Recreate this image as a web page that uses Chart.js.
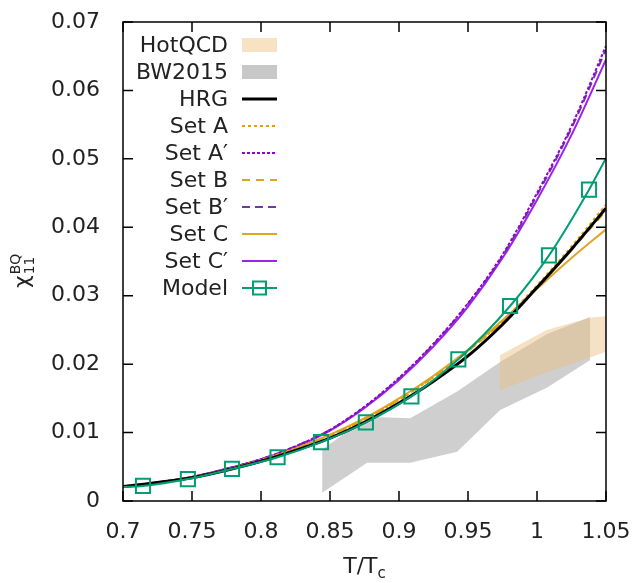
<!DOCTYPE html>
<html>
<head>
<meta charset="utf-8">
<script src="https://cdn.jsdelivr.net/npm/chart.js@4"></script>
<style>
  body { margin: 0; background: #fff; }
  canvas { display: block; }
</style>
</head>
<body>
<canvas id="grafico" width="638" height="583"></canvas>
<script>
// ========================
// DADOS
// ========================

const temperaturas = [0.7, 0.725, 0.75, 0.775, 0.8, 0.825, 0.85, 0.875, 0.9, 0.925, 0.95, 0.975, 1.0, 1.025, 1.05];

const hrg = [0.0021, 0.0027, 0.0034, 0.0045, 0.0058, 0.0074, 0.0092, 0.0115, 0.0143, 0.0175, 0.0212, 0.0258, 0.0312, 0.0368, 0.0428];
const setA = [0.0021, 0.0027, 0.0035, 0.0046, 0.006, 0.0077, 0.0096, 0.0119, 0.0148, 0.0181, 0.0219, 0.0263, 0.0315, 0.0372, 0.0433];
const setALinha = [0.0021, 0.0027, 0.0035, 0.0047, 0.0061, 0.008, 0.0104, 0.0138, 0.018, 0.023, 0.0289, 0.036, 0.045, 0.0548, 0.0665];
const setB = [0.0021, 0.0027, 0.0035, 0.0046, 0.006, 0.0077, 0.0096, 0.0119, 0.0148, 0.0181, 0.0219, 0.0262, 0.0313, 0.0367, 0.0424];
const setBLinha = [0.0021, 0.0027, 0.0035, 0.0047, 0.0061, 0.008, 0.0104, 0.0137, 0.0179, 0.0229, 0.0288, 0.0358, 0.0447, 0.0545, 0.066];
const setC = [0.0021, 0.0027, 0.0035, 0.0046, 0.006, 0.0077, 0.0097, 0.0121, 0.015, 0.0183, 0.0221, 0.0264, 0.031, 0.0355, 0.0397];
const setCLinha = [0.0021, 0.0027, 0.0035, 0.0047, 0.0061, 0.0079, 0.0103, 0.0136, 0.0177, 0.0226, 0.0284, 0.0355, 0.044, 0.0535, 0.0645];

// modelo: pontas da linha + quadrados
const modeloT = [0.7, 0.7145, 0.747, 0.779, 0.812, 0.8435, 0.876, 0.909, 0.943, 0.9805, 1.0087, 1.0377, 1.05];
const modelo = [0.00205, 0.0022, 0.0032, 0.0047, 0.0064, 0.0086, 0.0115, 0.0153, 0.0207, 0.0285, 0.0359, 0.0455, 0.0501];

// bandas
const hotqcdT = [0.973, 1.007, 1.039, 1.05];
const hotqcdMin = [0.0162, 0.0188, 0.021, 0.0218];
const hotqcdMax = [0.0213, 0.025, 0.0268, 0.027];

const bwT = [0.8443, 0.8769, 0.9081, 0.9421, 0.9733, 1.0074, 1.0386];
const bwMin = [0.0012, 0.0056, 0.0056, 0.0072, 0.0133, 0.0166, 0.0206];
const bwMax = [0.0075, 0.0123, 0.0121, 0.016, 0.0203, 0.0244, 0.0269];

const ticksX = [0.7, 0.75, 0.8, 0.85, 0.9, 0.95, 1, 1.05];
const ticksY = [0, 0.01, 0.02, 0.03, 0.04, 0.05, 0.06, 0.07];

const FONTE = "DejaVu Sans";

function pontos(xs, ys) {
  return xs.map((x, i) => ({ x: x, y: ys[i] }));
}

function curva(label, ys, cor, tracejado, largura) {
  return {
    label: label,
    data: pontos(temperaturas, ys),
    borderColor: cor,
    borderWidth: largura || 2,
    borderDash: tracejado || [],
    pointRadius: 0,
    cubicInterpolationMode: "monotone",
    fill: false,
  };
}

// ========================
// PLUGINS
// ========================

const moldura = {
  id: "moldura",
  beforeDraw(chart) {
    const ctx = chart.ctx;
    ctx.save();
    ctx.fillStyle = "#fff";
    ctx.fillRect(0, 0, chart.width, chart.height);
    ctx.restore();
  },
  afterDraw(chart) {
    const ctx = chart.ctx;
    const a = chart.chartArea;
    const x = chart.scales.x;
    const y = chart.scales.y;

    ctx.save();
    ctx.strokeStyle = "#000";
    ctx.lineWidth = 1.5;
    ctx.strokeRect(a.left, a.top, a.right - a.left, a.bottom - a.top);

    ctx.beginPath();
    ticksX.forEach((t) => {
      const px = x.getPixelForValue(t);
      ctx.moveTo(px, a.bottom);
      ctx.lineTo(px, a.bottom - 10);
      ctx.moveTo(px, a.top);
      ctx.lineTo(px, a.top + 10);
    });
    ticksY.forEach((t) => {
      const py = y.getPixelForValue(t);
      ctx.moveTo(a.left, py);
      ctx.lineTo(a.left + 10, py);
      ctx.moveTo(a.right, py);
      ctx.lineTo(a.right - 10, py);
    });
    ctx.stroke();

    // título x: T/Tc
    ctx.fillStyle = "#222";
    ctx.textBaseline = "alphabetic";
    ctx.textAlign = "left";
    ctx.font = "22px " + FONTE;
    const cx = (a.left + a.right) / 2;
    const w = ctx.measureText("T/T").width;
    ctx.font = "15px " + FONTE;
    const wc = ctx.measureText("c").width;
    const x0 = cx - (w + wc) / 2;
    ctx.font = "22px " + FONTE;
    ctx.fillText("T/T", x0, 573);
    ctx.font = "15px " + FONTE;
    ctx.fillText("c", x0 + w, 578);

    // título y: χ11^BQ
    ctx.translate(29, 288);
    ctx.rotate(-Math.PI / 2);
    ctx.font = "22px " + FONTE;
    ctx.fillText("χ", 0, 0);
    const wx = ctx.measureText("χ").width;
    ctx.font = "14px " + FONTE;
    ctx.fillText("BQ", wx + 1, -9);
    ctx.fillText("11", wx + 1, 5);
    ctx.restore();
  },
};

const legenda = {
  id: "legenda",
  afterDraw(chart) {
    const ctx = chart.ctx;
    const itens = chart.data.datasets.filter((d) => d.label);
    ctx.save();
    ctx.font = "22px " + FONTE;
    ctx.textAlign = "right";
    ctx.textBaseline = "middle";

    itens.forEach((d, i) => {
      const y = 45 + i * 27;
      ctx.fillStyle = "#222";
      ctx.fillText(d.label, 228, y + 1);

      if (d.fill) {
        ctx.fillStyle = d.corLegenda;
        ctx.fillRect(242, y - 7, 35, 14);
        return;
      }

      ctx.strokeStyle = d.borderColor;
      ctx.lineWidth = d.borderWidth;
      ctx.setLineDash(d.borderDash || []);
      ctx.beginPath();
      ctx.moveTo(242, y);
      ctx.lineTo(277, y);
      ctx.stroke();
      ctx.setLineDash([]);

      if (d.pointStyle === "rect") {
        ctx.strokeRect(253, y - 6.5, 13, 13);
      }
    });
    ctx.restore();
  },
};

// ========================
// GRÁFICO
// ========================

new Chart(document.getElementById("grafico"), {
  type: "line",

  data: {
    datasets: [
      {
        label: "",
        data: pontos(hotqcdT, hotqcdMin),
        borderWidth: 0,
        pointRadius: 0,
        fill: false,
      },
      {
        label: "HotQCD",
        data: pontos(hotqcdT, hotqcdMax),
        borderWidth: 0,
        pointRadius: 0,
        backgroundColor: "rgba(232,190,125,0.45)",
        corLegenda: "#f7e2c2",
        fill: "-1",
      },
      {
        label: "",
        data: pontos(bwT, bwMin),
        borderWidth: 0,
        pointRadius: 0,
        fill: false,
      },
      {
        label: "BW2015",
        data: pontos(bwT, bwMax),
        borderWidth: 0,
        pointRadius: 0,
        backgroundColor: "#cfcfcf",
        corLegenda: "#c8c8c8",
        fill: "-1",
      },
      curva("HRG", hrg, "#000", [], 3),
      curva("Set A", setA, "#e69f00", [3, 3]),
      curva("Set A\u2032", setALinha, "#9400d3", [3, 2]),
      curva("Set B", setB, "#daa520", [8, 6]),
      curva("Set B\u2032", setBLinha, "#6a3d9a", [8, 5]),
      curva("Set C", setC, "#e0a526", []),
      curva("Set C\u2032", setCLinha, "#a020f0", []),
      {
        label: "Model",
        data: pontos(modeloT, modelo),
        borderColor: "#009e73",
        borderWidth: 2,
        pointStyle: "rect",
        pointRadius: (c) => (c.dataIndex === 0 || c.dataIndex === modeloT.length - 1 ? 0 : 10),
        pointBorderWidth: 2,
        pointBackgroundColor: "rgba(0,0,0,0)",
        pointBorderColor: "#009e73",
        cubicInterpolationMode: "monotone",
        fill: false,
        order: -1,
      },
    ],
  },

  options: {
    responsive: false,
    animation: false,
    layout: { padding: { top: 22, right: 32, left: 0, bottom: 0 } },
    plugins: {
      legend: { display: false },
      tooltip: { enabled: false },
      filler: { drawTime: "beforeDatasetsDraw" },
    },
    scales: {
      x: {
        type: "linear",
        min: 0.7,
        max: 1.05,
        afterBuildTicks: (s) => {
          s.ticks = ticksX.map((v) => ({ value: v }));
        },
        afterFit: (s) => {
          s.height = 82;
          s.paddingLeft = 0;
          s.paddingRight = 0;
        },
        grid: { display: false },
        border: { display: false },
        ticks: {
          padding: 10,
          color: "#222",
          font: { family: FONTE, size: 22 },
          callback: (v) => String(+v.toFixed(2)),
        },
      },
      y: {
        min: 0,
        max: 0.07,
        afterBuildTicks: (s) => {
          s.ticks = ticksY.map((v) => ({ value: v }));
        },
        afterFit: (s) => {
          s.width = 123;
          s.paddingTop = 0;
          s.paddingBottom = 0;
        },
        grid: { display: false },
        border: { display: false },
        ticks: {
          padding: 15,
          color: "#222",
          font: { family: FONTE, size: 22 },
          callback: (v) => String(+v.toFixed(2)),
        },
      },
    },
  },

  plugins: [moldura, legenda],
});
</script>
</body>
</html>
